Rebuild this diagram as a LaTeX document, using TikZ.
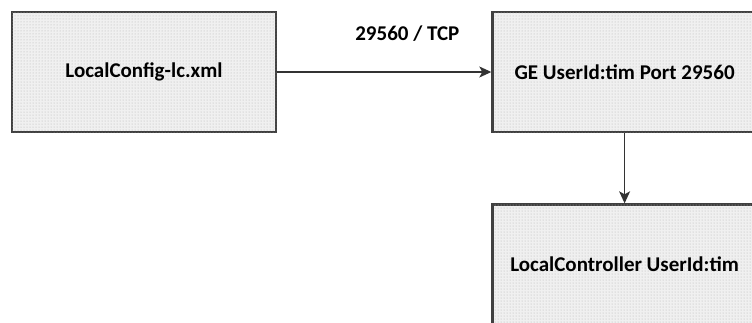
\documentclass[tikz,border=0pt]{standalone}
\usepackage{fontspec}
\setmainfont{Carlito}
\usetikzlibrary{arrows.meta,positioning,patterns}

\begin{document}
\begin{tikzpicture}[
  x=1pt,y=1pt,
  node distance=70pt,
  box/.style={rectangle,draw=black!75,line width=2.6pt,fill=black!6,
    postaction={pattern=dots,pattern color=black!30},
    minimum width=264pt,minimum height=120pt,font=\fontsize{21}{25}\selectfont\bfseries},
  lbl/.style={font=\fontsize{21}{25}\selectfont\bfseries},
  arr/.style={-{Stealth[length=12pt,width=11pt,inset=3pt]},line width=1.2pt,draw=black!80}
]
\useasboundingbox (0,0) rectangle (752,-322);
\clip (0,0) rectangle (752,-322);
\node[box] (cfg) at (144,-72) {LocalConfig-lc.xml};
\node[box,right=214pt of cfg] (ge) {GE UserId:tim Port 29560};
\node[box,below=70pt of ge] (lc) {LocalController UserId:tim};
\draw[arr] (cfg) -- node[lbl,xshift=23pt,yshift=38pt] {29560 / TCP} (ge);
\draw[arr] (ge) -- (lc);
\end{tikzpicture}
\end{document}
